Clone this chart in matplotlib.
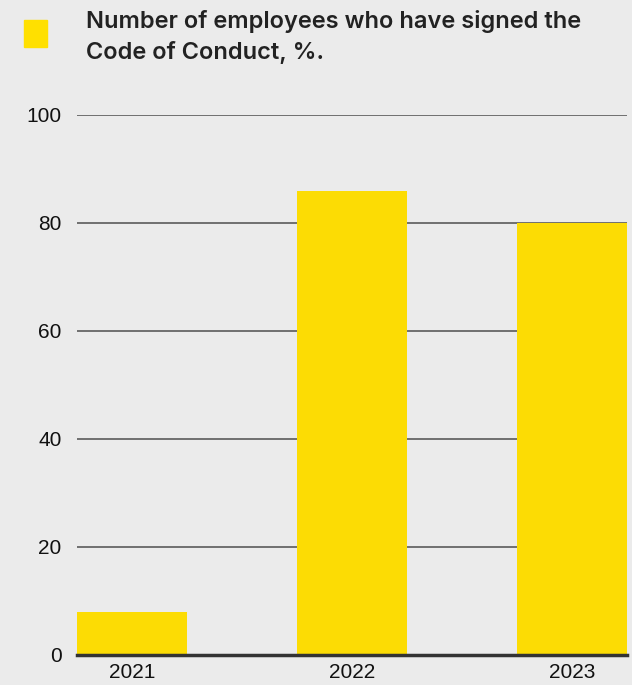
import matplotlib.pyplot as plt
from matplotlib.patches import Rectangle

# data
years = ["2021", "2022", "2023"]
signed_pct = [8, 86, 80]
yticks = [0, 20, 40, 60, 80, 100]

bg = "#ebebeb"
yellow = "#fcdc04"

fig = plt.figure(figsize=(6.32, 6.85), dpi=100, facecolor=bg)
ax = fig.add_axes([77 / 632, 30 / 685, 550 / 632, 540 / 685], facecolor=bg)

x = range(len(years))
ax.bar(x, signed_pct, width=0.5, color=yellow, zorder=3)

ax.set_xlim(-0.25, 2.25)
ax.set_ylim(0, 100)
ax.set_yticks(yticks)
ax.set_xticks(list(x))
ax.set_xticklabels(years)

# gridlines behind bars
for t in yticks[1:]:
    ax.axhline(t, color="#5a5a5a", lw=1.2, zorder=1)
ax.axhline(0, color="#333333", lw=2.5, zorder=4, clip_on=False)

for s in ax.spines.values():
    s.set_visible(False)
ax.tick_params(length=0, labelsize=15, labelcolor="#111111")
ax.tick_params(axis="y", pad=11)
ax.tick_params(axis="x", pad=6)
for lbl in ax.get_xticklabels() + ax.get_yticklabels():
    lbl.set_family("Liberation Sans")

# legend square + title
fig.patches.append(Rectangle((24 / 632, 1 - 47 / 685), 23 / 632, 27 / 685,
                             transform=fig.transFigure, color="#ffe000"))
fig.text(86 / 632, 1 - 10 / 685, "Number of employees who have signed the\nCode of Conduct, %.",
         ha="left", va="top", fontsize=17, fontweight="semibold",
         family="Inter", color="#222222", linespacing=1.45)

fig.savefig("out.png", dpi=100, facecolor=bg)
